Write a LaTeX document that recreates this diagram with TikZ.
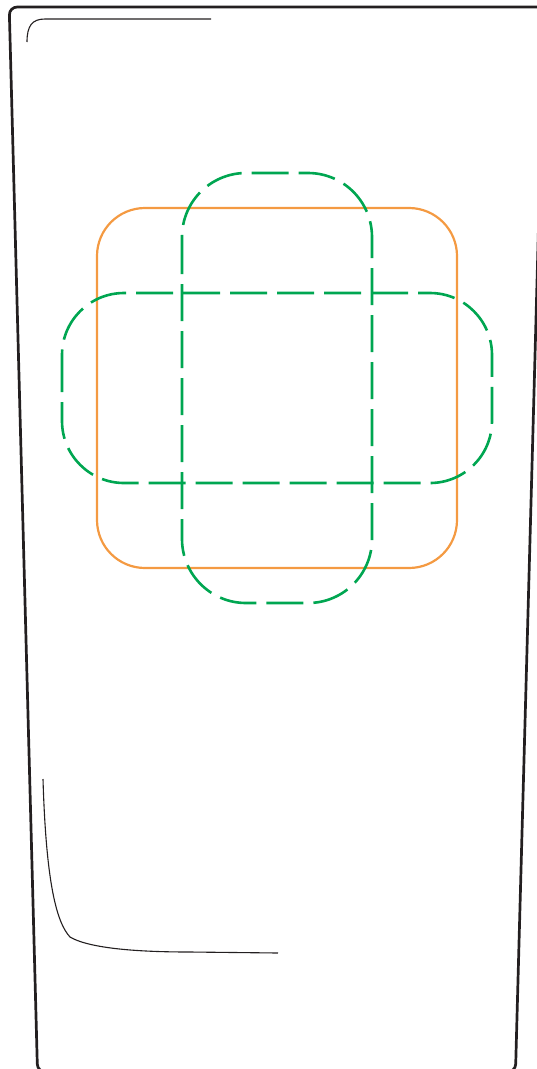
\documentclass[tikz,border=0pt]{standalone}
\usepackage{tikz}
\definecolor{cupgrey}{RGB}{35,31,32}
\definecolor{lidorange}{RGB}{244,154,66}
\definecolor{foldgreen}{RGB}{0,166,81}
\tikzset{
  cupline/.style={draw=cupgrey,line width=2.7pt,rounded corners=8pt},
  innerline/.style={draw=cupgrey,line width=1.1pt},
  lidbox/.style={draw=lidorange,line width=2.2pt,rounded corners=48pt},
  foldbox/.style={draw=foldgreen,line width=2.6pt,
    dash pattern=on 37pt off 10pt}
}
\begin{document}
\begin{tikzpicture}[x=1pt,y=-1pt]
  \useasboundingbox (0,0) rectangle (537,1069);
  \clip (0,0) rectangle (537,1069);
  \draw[cupline] (9.2,7) -- (37.5,1072) -- (515.5,1072) -- (544.5,7) -- cycle;
  \draw[innerline] (27,42) .. controls (27,26) and (32,19) .. (45,19) -- (211,19);
  \draw[innerline] (43,779) .. controls (46,880) and (56,922) .. (70,937)
    .. controls (92,950) and (150,952) .. (190,952) -- (278,953);
  \draw[lidbox] (97,208) rectangle (457,568);
  \draw[foldbox,rounded corners=64pt] (182,173) rectangle (372,603);
  \draw[foldbox,rounded corners=62pt] (62,293) rectangle (492,483);
\end{tikzpicture}
\end{document}
